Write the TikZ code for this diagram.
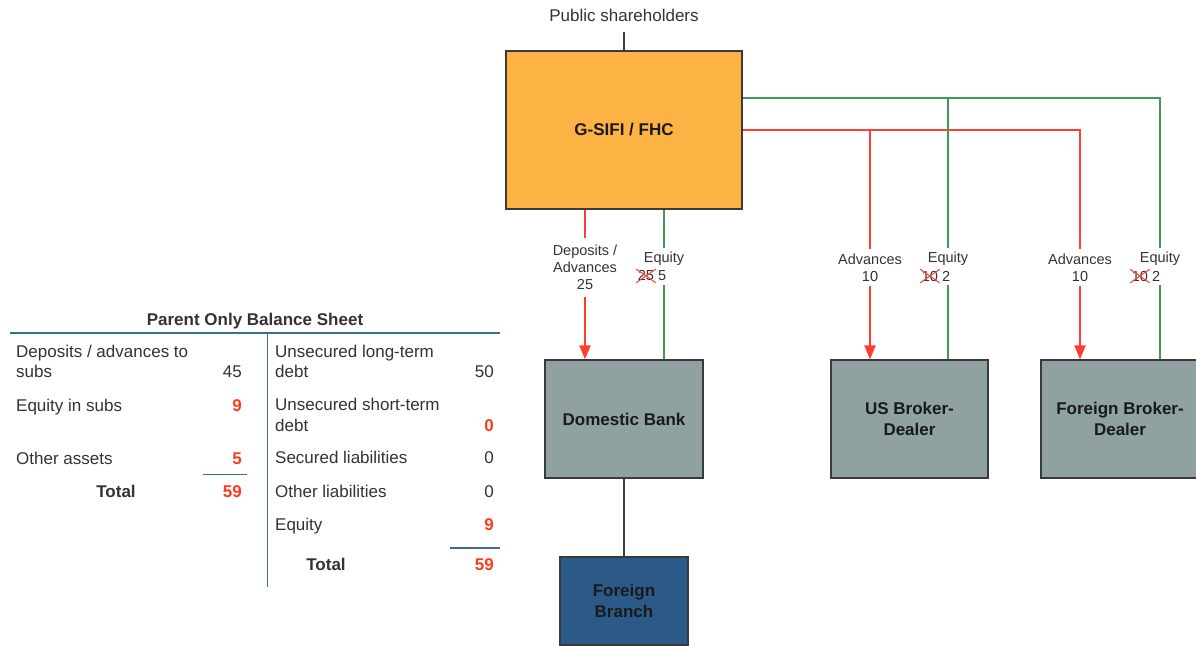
\documentclass[tikz,border=0pt]{standalone}
\usepackage{fontspec}
\setmainfont{Liberation Sans}
\usetikzlibrary{arrows.meta}

\definecolor{txtgray}{HTML}{333333}
\definecolor{boxtxt}{HTML}{1A1A1A}
\definecolor{boxedge}{HTML}{3A3A3A}
\definecolor{hcfill}{HTML}{FDB244}
\definecolor{subfill}{HTML}{8FA1A1}
\definecolor{branchfill}{HTML}{2B5A88}
\definecolor{advred}{HTML}{FF3D33}
\definecolor{eqgreen}{HTML}{3E9B55}
\definecolor{rulecol}{HTML}{3C6E8C}
\definecolor{numred}{HTML}{FF3B1F}

\tikzset{
  entity/.style={draw=boxedge, line width=1.2pt, align=center,
    font=\bfseries\fontsize{17}{21}\selectfont, text=boxtxt},
  lab/.style={font=\fontsize{14.5}{17}\selectfont, text=txtgray, align=center,
    inner xsep=1pt, inner ysep=4pt},
  struck/.style={font=\fontsize{14.5}{17}\selectfont, text=txtgray,
    inner xsep=1.5pt, inner ysep=1.5pt},
  xmark/.style={draw=advred, line width=1pt},
  advline/.style={draw=advred, line width=2pt},
  advarrow/.style={advline, -{Triangle[width=11pt,length=14pt]}},
  eqline/.style={draw=eqgreen, line width=2pt},
  plainline/.style={draw=boxedge, line width=1.2pt},
  cell/.style={font=\fontsize{17}{20}\selectfont, text=txtgray, inner sep=0pt},
  cellbold/.style={cell, font=\bfseries\fontsize{17}{20}\selectfont},
  rednum/.style={cell, font=\bfseries\fontsize{17}{20}\selectfont, text=numred},
  tablerule/.style={draw=rulecol, line width=1.5pt}
}

\begin{document}
\begin{tikzpicture}[x=1pt, y=-1pt]
\useasboundingbox (0,0) rectangle (1196,645);
\fill[white] (0,0) rectangle (1196,645);
\clip (0,0) rectangle (1196,645);

% ---------- organisation chart ----------
\node[cell] (pub) at (624,15) {Public shareholders};

\node[entity, fill=hcfill, minimum width=236pt, minimum height=158pt]
  (gsifi) at (624,130) {G-SIFI / FHC};
\node[entity, fill=subfill, minimum width=158pt, minimum height=118pt]
  (dom) at (624,419) {Domestic Bank};
\node[entity, fill=subfill, minimum width=157pt, minimum height=118pt]
  (usbd) at (909.5,419) {US Broker-\\Dealer};
\node[entity, fill=subfill, minimum width=158pt, minimum height=118pt]
  (fbd) at (1120,419) {Foreign Broker-\\Dealer};
\node[entity, fill=branchfill, minimum width=128pt, minimum height=88pt]
  (branch) at (624,601) {Foreign\\Branch};

\draw[plainline, shorten >=11pt] (gsifi.north) -- (pub.south);
\draw[plainline] (dom.south) -- (branch.north);

% flow labels
\node[lab, inner ysep=7pt] (dep) at (585,267.5) {Deposits /\\Advances\\25};
\node[lab] (eqD) at (664,259) {Equity};
\node[lab] (vD) at (652,276) {\hphantom{25} 5};
\node[struck, anchor=base west] (oD) at ([xshift=-0.5pt]vD.base west) {25};

\node[lab] (advU) at (870,267.5) {Advances\\10};
\node[lab] (eqU) at (948,259) {Equity};
\node[lab] (vU) at (936,276) {\hphantom{10} 2};
\node[struck, anchor=base west] (oU) at ([xshift=-0.5pt]vU.base west) {10};

\node[lab] (advF) at (1080,267.5) {Advances\\10};
\node[lab] (eqF) at (1160,259) {Equity};
\node[lab] (vF) at (1146,276) {\hphantom{10} 2};
\node[struck, anchor=base west] (oF) at ([xshift=-0.5pt]vF.base west) {10};

% struck-out previous amounts
\foreach \o in {oD,oU,oF}{
  \draw[xmark] (\o.south west) -- (\o.north east)
               (\o.north west) -- (\o.south east);
}

% advances (red)
\draw[advline] (gsifi.south -| dep) -- (dep.north);
\draw[advarrow] (dep.south) -- (dom.north -| dep);
\draw[advline] (gsifi.east) -| (advF.north);
\draw[advline] (gsifi.east -| advU) -- (advU.north);
\draw[advarrow] (advU.south) -- (usbd.north -| advU);
\draw[advarrow] (advF.south) -- (fbd.north -| advF);

% equity (green)
\draw[eqline] (gsifi.south -| eqD) -- (eqD.north);
\draw[eqline] (vD.south -| eqD) -- (dom.north -| eqD);
\draw[eqline] ([yshift=32pt]gsifi.east) -| (eqF.north);
\draw[eqline] ([yshift=32pt]gsifi.east -| eqU) -- (eqU.north);
\draw[eqline] (vU.south -| eqU) -- (usbd.north -| eqU);
\draw[eqline] (vF.south -| eqF) -- (fbd.north -| eqF);

% ---------- parent only balance sheet ----------
\node[cellbold, anchor=base] (title) at (255,325) {Parent Only Balance Sheet};
\draw[tablerule] (10,333) -- (500,333);
\draw[tablerule] (267.5,333) -- (267.5,587);
\draw[tablerule] (203,474.5) -- (247,474.5);
\draw[tablerule] (450,548) -- (500,548);

% assets
\node[cell, anchor=base west] (a1) at (16,357) {Deposits / advances to};
\node[cell, anchor=base west] (a1b) at (16,377) {subs};
\node[cell, anchor=base east] (a1v) at (242,377) {45};
\node[cell, anchor=base west] (a2) at (16,411) {Equity in subs};
\node[rednum, anchor=base east] (a2v) at (242,411) {9};
\node[cell, anchor=base west] (a3) at (16,464) {Other assets};
\node[rednum, anchor=base east] (a3v) at (242,464) {5};
\node[cellbold, anchor=base] (at) at (116,497) {Total};
\node[rednum, anchor=base east] (atv) at (242,497) {59};

% liabilities and equity
\node[cell, anchor=base west] (l1) at (275,357) {Unsecured long-term};
\node[cell, anchor=base west] (l1b) at (275,377) {debt};
\node[cell, anchor=base east] (l1v) at (494,377) {50};
\node[cell, anchor=base west] (l2) at (275,410) {Unsecured short-term};
\node[cell, anchor=base west] (l2b) at (275,431) {debt};
\node[rednum, anchor=base east] (l2v) at (494,431) {0};
\node[cell, anchor=base west] (l3) at (275,463) {Secured liabilities};
\node[cell, anchor=base east] (l3v) at (494,463) {0};
\node[cell, anchor=base west] (l4) at (275,497) {Other liabilities};
\node[cell, anchor=base east] (l4v) at (494,497) {0};
\node[cell, anchor=base west] (l5) at (275,530) {Equity};
\node[rednum, anchor=base east] (l5v) at (494,530) {9};
\node[cellbold, anchor=base] (lt) at (326,570) {Total};
\node[rednum, anchor=base east] (ltv) at (494,570) {59};
\end{tikzpicture}
\end{document}
